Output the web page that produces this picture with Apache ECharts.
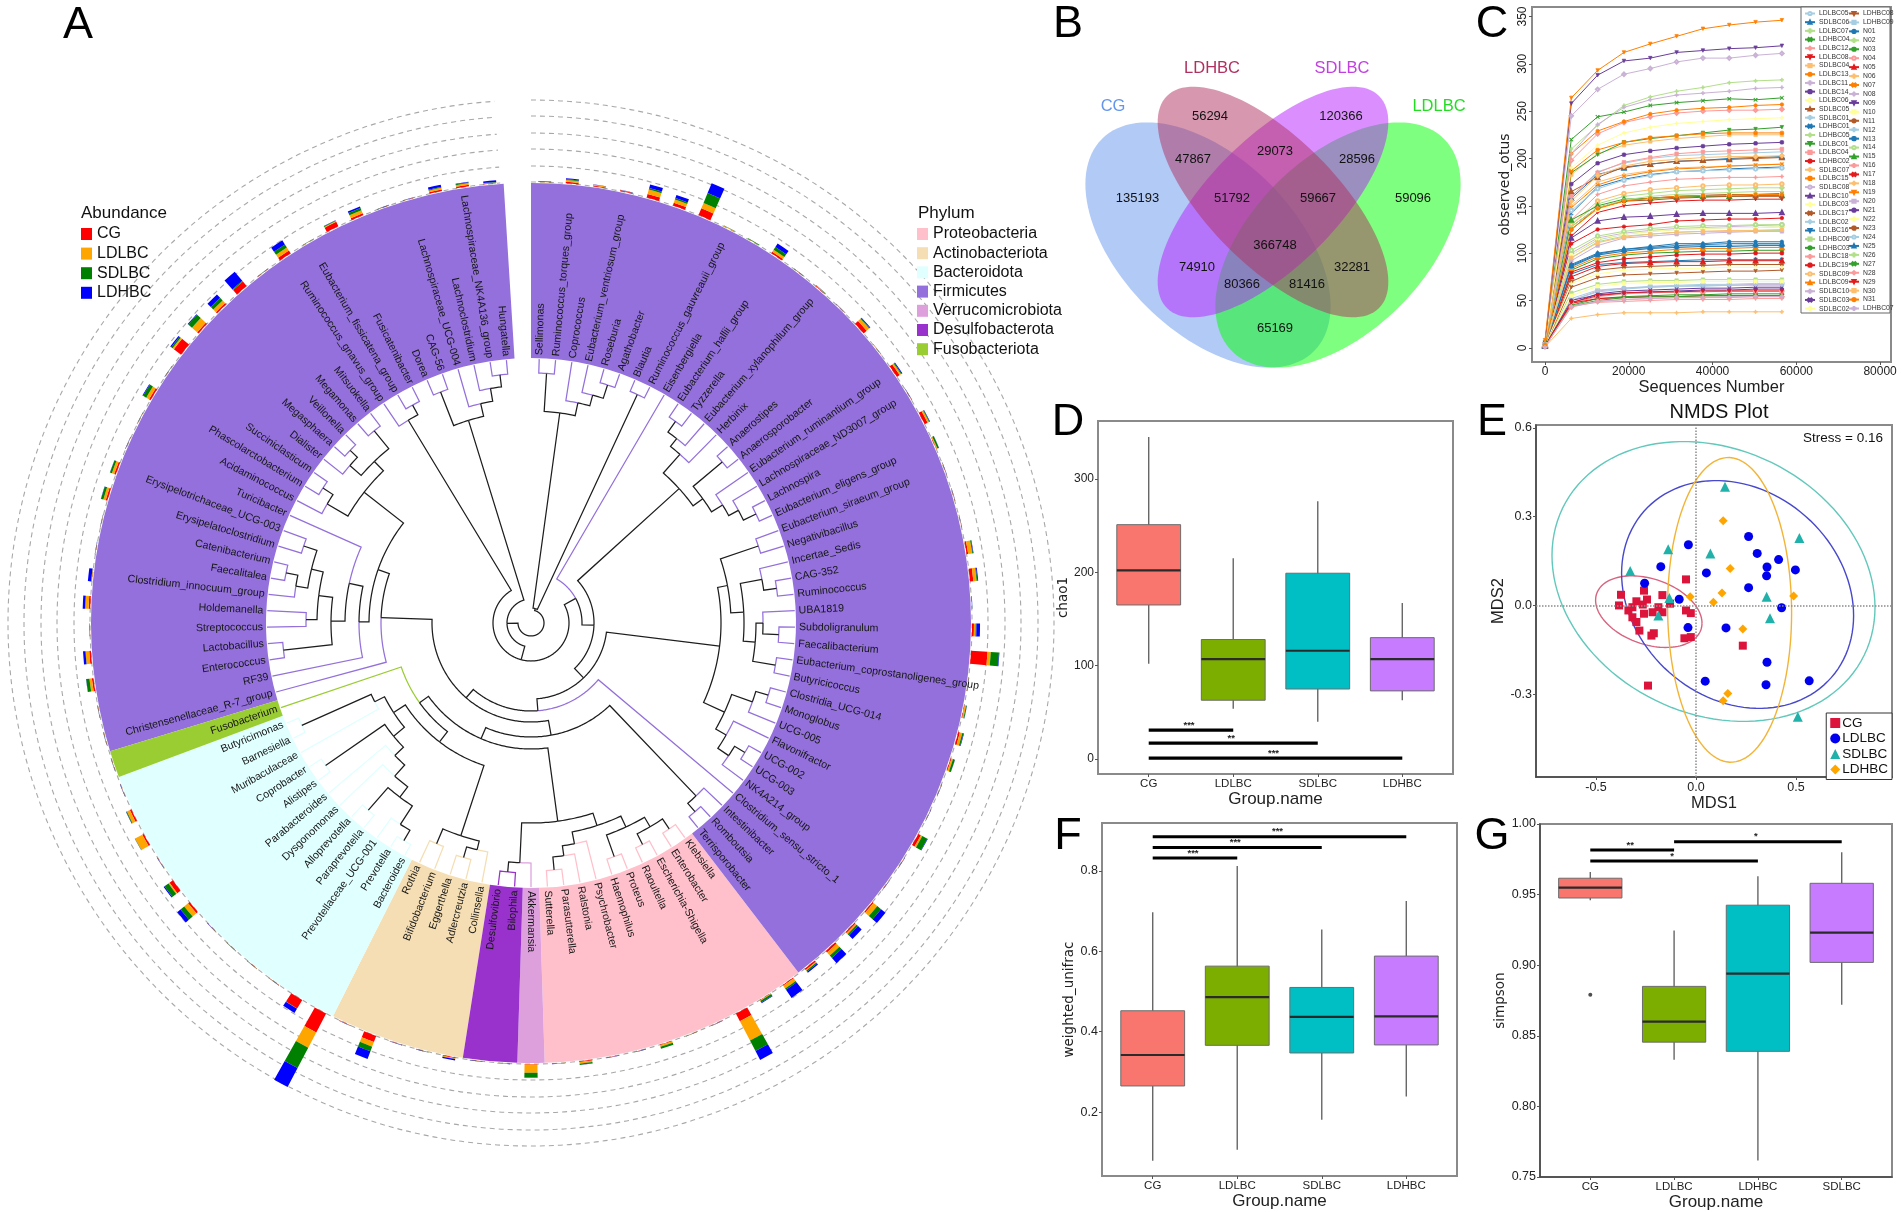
<!DOCTYPE html>
<html><head><meta charset="utf-8"><style>html,body{margin:0;background:#fff}#c{width:1902px;height:1212px}</style>
<script src="https://cdn.jsdelivr.net/npm/echarts@6/dist/echarts.min.js"></script></head>
<body><div id="c"></div><script>
const NARROW='"Liberation Sans",Arial,sans-serif', WIDE='"DejaVu Sans",sans-serif', PLAIN='"Liberation Sans",Arial,sans-serif';

// ---------- Panel A ----------
const genera=['Sellimonas','Ruminococcus_torques_group','Coprococcus','Eubacterium_ventriosum_group','Roseburia','Agathobacter','Blautia','Ruminococcus_gauvreauii_group','Eisenbergiella','Eubacterium_hallii_group','Tyzzerella','Eubacterium_xylanophilum_group','Herbinix','Anaerostipes','Anaerosporobacter','Eubacterium_ruminantium_group','Lachnospiraceae_ND3007_group','Lachnospira','Eubacterium_eligens_group','Eubacterium_siraeum_group','Negativibacillus','Incertae_Sedis','CAG-352','Ruminococcus','UBA1819','Subdoligranulum','Faecalibacterium','Eubacterium_coprostanoligenes_group','Butyricicoccus','Clostridia_UCG-014','Monoglobus','UCG-005','Flavonifractor','UCG-002','UCG-003','NK4A214_group','Clostridium_sensu_stricto_1','Intestinibacter','Romboutsia','Terrisporobacter','Klebsiella','Enterobacter','Escherichia-Shigella','Raoultella','Proteus','Haemophilus','Psychrobacter','Ralstonia','Parasutterella','Sutterella','Akkermansia','Bilophila','Desulfovibrio','Collinsella','Adlercreutzia','Eggerthella','Bifidobacterium','Rothia','Bacteroides','Prevotella','Prevotellaceae_UCG-001','Paraprevotella','Alloprevotella','Dysgonomonas','Parabacteroides','Alistipes','Coprobacter','Muribaculaceae','Barnesiella','Butyricimonas','Fusobacterium','Christensenellaceae_R-7_group','RF39','Enterococcus','Lactobacillus','Streptococcus','Holdemanella','Clostridium_innocuum_group','Faecalitalea','Catenibacterium','Erysipelatoclostridium','Erysipelotrichaceae_UCG-003','Turicibacter','Acidaminococcus','Phascolarctobacterium','Succiniclasticum','Dialister','Megasphaera','Veillonella','Megamonas','Mitsuokella','Ruminococcus_gnavus_group','Eubacterium_fissicatena_group','Fusicatenibacter','Dorea','CAG-56','Lachnospiraceae_UCG-004','Lachnoclostridium','Lachnospiraceae_NK4A136_group','Hungatella'];
const phylumNames=['Proteobacteria','Actinobacteriota','Bacteroidota','Firmicutes','Verrucomicrobiota','Desulfobacterota','Fusobacteriota'];
const phylumColors=['#FFC0CB','#F5DEB3','#E0FFFF','#9370DB','#DDA0DD','#9932CC','#9ACD32'];
// runs of leaves around the circle: [phylum index, leaf count]
const phylumRuns=[[3,40],[0,10],[4,1],[5,2],[1,5],[2,12],[6,1],[3,29]];
const abCG=[.01,.1,.06,.05,.22,.18,.45,.01,.01,.1, .01,.03,.01,.25,.01,.2,.01,.2,.03,.01, .01,.01,.1,.2,.01,.12,1,.01,.03,.1, .05,.01,.01,.18,.01,.01,.08,.08,.12,.1, .05,.03,.53,.01,.01,.03,.01,.01,.04,.01, .03,.01,.01,.04,.01,.01,.4,.01,1.3,.6, .01,.01,.01,.01,.12,.25,.01,.1,.1,.01, .01,.01,.01,.1,.1,.01,.1,.01,.01,.01, .1,.1,.01,.01,.1,.01,.55,.1,.1,.35, .01,.2,.01,.3,.12,.01,.01,.1,.1,.03];
const abLDLBC=[.01,.1,.05,.01,.28,.2,.35,.03,.01,.15, .01,.03,.01,.2,.01,.1,.01,.1,.05,.01, .01,.01,.25,.2,.01,.1,.2,.01,.08,.15, .1,.01,.01,.1,.01,.01,.3,.1,.25,.05, .2,.03,1.33,.01,.01,.1,.01,.01,.1,.01, .5,.01,.01,.05,.01,.01,.3,.01,1.05,.01, .01,.01,.01,.01,.3,.08,.01,.5,.2,.01, .01,.01,.01,.15,.22,.01,.2,.03,.01,.01, .15,.15,.01,.01,.2,.01,.1,.42,.22,.01, .01,.22,.01,.05,.2,.01,.01,.1,.1,.03];
const abSDLBC=[.03,.05,.01,.01,.1,.1,.65,.01,.03,.2, .01,.01,.01,.05,.01,.05,.01,.04,.1,.01, .01,.01,.05,.05,.01,.05,.5,.01,.05,.08, .12,.01,.01,.35,.01,.01,.3,.12,.2,.08, .1,.12,.72,.01,.01,.12,.01,.01,.08,.01, .3,.01,.01,.01,.01,.01,.3,.01,1.4,.01, .01,.01,.01,.01,.3,.3,.01,.01,.05,.01, .01,.01,.01,.2,.01,.01,.01,.01,.01,.01, .15,.12,.01,.01,.22,.01,.1,.3,.22,.05, .01,.22,.01,.05,.15,.01,.01,.05,.05,.03];
const abLDHBC=[.01,.06,.01,.01,.22,.2,.65,.01,.01,.25, .01,.01,.01,.05,.01,.05,.01,.03,.01,.01, .01,.01,.03,.05,.01,.22,.03,.01,.01,.03, .01,.01,.01,.03,.01,.01,.35,.3,.42,.08, .6,.04,.61,.01,.01,.01,.01,.01,.01,.01, .01,.01,.01,.08,.01,.01,.5,.01,1.5,.3, .01,.01,.01,.01,.25,.06,.01,.01,.01,.01, .01,.01,.01,.01,.15,.01,.15,.2,.01,.01, .01,.01,.01,.01,.05,.01,.08,.05,.28,.72, .01,.3,.01,.01,.1,.01,.01,.15,.03,.1];
const abundanceGroups=['CG','LDLBC','SDLBC','LDHBC'];
const abundanceColors=['#FF0000','#FFA500','#008000','#0000FF'];
const ringRadii=[441,457,474,490,507,523];
// tree: [node radius, child, child...]; an integer child is a leaf index
const treeTopology=[13,
 [15,[212,[250,0,1],[225,2,[236,3,[250,4,5]]]],[252,6,7]],
 [24,
  [38,
   [51,8,
    [63,
     [200,[225,[235,[248,9,10],11],12],[212,[250,13,14],[225,15,[236,16,[250,17,18]]]]],
     [76,
      [190,
       [200,[240,19,20],[213,[235,21,[248,22,23]],[225,[232,24,[248,25,26]],[248,27,28]]]],
       [213,[235,[248,29,30],31],[225,32,[238,[250,33,34],35]]]],
      [88,36,
       [99,
        [114,
         [239,37,[250,38,39]],
         [126,
          [200,[213,[225,[236,[248,40,41],[248,42,43]],[248,44,45]],[225,46,[235,47,[248,48,49]]]],[240,50,[250,51,52]]],
          [137,
           [150,
            [224,[233,53,[244,54,55]],[240,56,57]],
            [164,[178,[190,[205,[218,[240,[252,58,59],60],[248,61,62]],63],64],[250,65,66]],[175,67,[251,68,69]]]],
           70]]],
        [150,71,
         [162,
          [172,72,[186,[200,[249,73,74],[214,[225,75,76],[226,[238,77,[250,78,79]],[240,80,81]]]],82]],
          [212,[236,83,[248,84,85]],[225,[240,86,[250,87,88]],[248,89,90]]]]]]]]]],
   [237,91,[248,92,93]]],
  [212,[248,94,95],[225,96,[238,97,[250,98,99]]]]]];
const LEAF_R=264;

// ---------- Panel B ----------
const vennSets=['CG','LDLBC','SDLBC','LDHBC'];
const vennColors=['#6495ED','#00FF00','#B820FF','#B03060'];
const vennLabelColors=['#6495ED','#22DD22','#C040E0','#B03060'];
const vennEllipses=[[128,185,150,87,45],[258,185,150,87,-45],[193,142,150,64,-45],[193,142,150,64,45]];
const vennNamePos=[[33,46],[359,46],[262,8],[132,8]];
const vennCounts=[56294,120366,47867,29073,28596,135193,51792,59667,59096,366748,74910,32281,80366,81416,65169];
const vennCountPos=[[130,56],[261,56],[113,99],[195,91],[277,99],[57.5,138],[152,138],[238,138],[333,138],[195,185],[117,207],[272,207],[162,224],[227,224],[195,268]];

// ---------- Panel C ----------
const seqDepths=[0,6284,12568,18852,25136,31420,37704,43988,50272,56556];
const otuNamesCol1=['LDLBC05','SDLBC06','LDLBC07','LDHBC04','LDLBC12','LDLBC08','SDLBC04','LDLBC13','LDLBC11','LDLBC14','LDLBC06','SDLBC05','SDLBC01','LDHBC01','LDHBC05','LDLBC01','LDLBC04','LDHBC02','SDLBC07','LDLBC15','SDLBC08','LDLBC10','LDLBC03','LDLBC17','LDLBC02','LDLBC16','LDHBC06','LDHBC03','LDLBC18','LDLBC19','SDLBC09','LDLBC09','SDLBC10','SDLBC03','SDLBC02'];
const otuNamesCol2=['LDHBC08','LDHBC09','N01','N02','N03','N04','N05','N06','N07','N08','N09','N10','N11','N12','N13','N14','N15','N16','N17','N18','N19','N20','N21','N22','N23','N24','N25','N26','N27','N28','N29','N30','N31','LDHBC07'];
const otuPalette=['#A6CEE3','#1F78B4','#B2DF8A','#33A02C','#FB9A99','#E31A1C','#FDBF6F','#FF7F00','#CAB2D6','#6A3D9A','#FFFF99','#B15928'];
const otuRows=[
[4,52,61,63,65,66,67,67,68,68],[3,158,183,190,194,197,198,200,201,202],[5,210,235,256,265,271,275,280,282,283],[6,220,244,249,256,259,261,263,262,264],
[5,198,226,238,244,248,250,251,251,252],[3,118,143,150,153,155,156,156,157,157],[4,183,205,214,218,221,223,225,225,225],[5,205,229,239,247,251,253,254,256,257],
[5,205,236,254,262,267,269,271,274,275],[4,173,195,204,208,211,213,215,216,217],[3,125,146,154,157,159,160,161,162,162],[4,165,180,191,194,197,198,199,200,201],
[4,160,186,195,200,203,204,205,206,207],[3,142,170,178,183,186,187,189,190,191],[3,130,152,160,163,166,167,168,169,169],[4,185,204,217,221,224,227,230,231,233],
[4,160,185,196,201,205,207,208,209,210],[3,110,125,128,130,134,135,136,136,137],[3,150,175,183,187,190,191,192,193,194],[4,187,209,217,222,224,226,227,227,227],
[3,100,116,121,124,126,127,128,129,130],[3,116,134,138,139,141,142,142,142,143],[4,190,214,227,233,237,239,241,242,243],[3,128,148,155,158,160,161,162,162,163],
[3,98,114,120,123,125,126,127,127,128],[3,78,88,90,91,92,93,93,93,93],[2,58,67,70,71,71,72,72,72,72],[2,82,94,98,100,101,102,102,103,103],
[3,135,162,171,175,178,179,180,180,181],[2,80,90,94,96,98,99,99,100,100],[3,130,155,163,167,169,171,172,172,173],[2,84,96,100,102,104,105,105,106,106],
[2,50,60,63,64,65,66,66,67,67],[2,47,57,60,61,62,63,63,64,64],[3,98,115,120,123,125,126,127,127,128],[2,64,74,77,78,79,80,81,81,82],
[2,85,98,103,105,107,108,108,109,109],[2,88,100,104,107,110,110,112,112,112],[3,95,112,118,120,122,123,123,124,124],[2,45,52,54,55,56,56,57,57,57],
[2,47,54,57,58,59,59,60,60,60],[2,75,86,89,90,91,91,92,92,92],[1,31,35,37,37,37,38,38,38,38],[3,148,172,181,186,189,190,192,193,194],
[5,245,273,289,295,302,306,306,309,311],[5,258,288,303,306,312,314,316,317,319],[2,55,65,68,69,69,70,70,70,70],[2,70,82,85,86,87,87,88,88,88],
[2,50,59,62,64,65,65,66,66,66],[2,86,98,102,105,106,107,107,108,108],[3,103,118,123,126,128,129,129,130,130],[3,135,150,157,158,159,160,160,161,161],
[1,44,48,49,50,51,51,51,52,52],[2,47,52,53,54,54,55,55,55,55],[4,155,182,192,197,199,201,202,202,203],[8,264,293,312,321,329,337,341,344,346],
[2,92,108,116,118,120,121,122,123,123],[2,50,56,58,59,60,61,61,62,62],[2,68,78,82,83,84,84,85,85,85],[3,125,148,155,156,158,159,160,160,160],
[3,145,168,177,182,186,187,188,189,190],[2,87,99,104,106,108,109,110,110,110],[3,128,148,156,160,162,163,164,165,165],[2,44,50,53,54,54,55,55,55,55],
[1,43,49,51,52,53,53,53,54,54],[2,48,55,58,59,59,60,60,60,60],[2,95,111,117,120,122,123,124,124,125],[3,125,147,155,158,160,161,161,162,162],
[1,44,49,51,52,53,53,54,54,54]];
const otuSymbols=['emptyCircle','emptyTriangle','path://M4 0h2v4h4v2h-4v4h-2v-4h-4v-2h4z','path://M1 0l4 4 4-4 1 1-4 4 4 4-1 1-4-4-4 4-1-1 4-4-4-4z','emptyDiamond','path://M0 0h10l-5 9z','rect','circle','path://M4 0h2v4h4v2h-4v4h-2v-4h-4v-2h4z','roundRect'];

// ---------- Panels D, F, G: [position, low whisker, Q1, median, Q3, high whisker] ----------
const boxColors=['#F8766D','#7CAE00','#00BFC4','#C77CFF'];
const groupsDF=['CG','LDLBC','SDLBC','LDHBC'];
const groupsG=['CG','LDLBC','LDHBC','SDLBC'];
const chao1Stats=[[1,102,165,202,251,345],[2,54,63,107,128,215],[3,40,75,116,199,276],[4,63,73,107,130,167]];
const chao1Sig=[[1,2,31,'***'],[1,3,17,'**'],[1,4,1,'***']];
const unifracStats=[[1,.079,.265,.342,.452,.697],[2,.106,.366,.486,.563,.812],[3,.181,.347,.437,.51,.654],[4,.239,.367,.438,.588,.725]];
const unifracSig=[[1,2,.832,'***'],[1,3,.858,'***'],[1,4,.885,'***']];
const simpsonStats=[[1,.946,.9476,.955,.9616,.966],[2,.833,.8455,.860,.885,.9245],[3,.7616,.839,.894,.9425,.963],[4,.872,.902,.923,.958,.98]];
const simpsonSig=[[1,2,.9816,'**'],[1,3,.9738,'*'],[2,4,.9875,'*']];
const simpsonOutliers=[[1,.879]];

// ---------- Panel E ----------
const nmdsCG=[[-.05,.088],[-.26,.05],[-.375,.036],[-.385,0],[-.168,.035],[-.13,.006],[-.245,.02],[-.298,.014],[-.318,-.006],[-.338,-.017],[-.266,.003],[-.26,-.028],[-.318,-.04],[-.298,-.056],[-.283,-.085],[-.217,-.023],[-.188,-.006],[-.168,-.023],[-.211,-.094],[-.223,-.102],[-.05,-.017],[-.026,-.026],[-.058,-.111],[-.026,-.107],[.234,-.136],[-.24,-.271]];
const nmdsLDLBC=[[.263,.233],[-.038,.205],[.306,.176],[.413,.155],[.355,.13],[-.176,.131],[.497,.12],[.052,.11],[.353,.1],[-.257,.075],[.263,.06],[-.084,.021],[.428,-.008],[-.04,-.075],[.15,-.076],[.355,-.192],[.046,-.256],[.35,-.268],[.566,-.255]];
const nmdsSDLBC=[[.145,.401],[.517,.228],[-.139,.19],[.072,.176],[-.329,.116],[.353,.029],[-.133,.025],[-.188,-.034],[.37,-.043],[.509,-.376]];
const nmdsLDHBC=[[.136,.286],[.171,.125],[.13,.042],[-.029,.029],[.087,.011],[.488,.032],[.234,-.08],[.159,-.298],[.136,-.322]];
const nmdsGroups=['CG','LDLBC','SDLBC','LDHBC'];
const nmdsColors=['#DC143C','#0000EE','#20B2AA','#FFA500'];
const nmdsSymbols=['rect','circle','triangle','diamond'];
const nmdsSizes=[8,9,10,9];
// ellipse [cx, cy, half width, half height, correlation]
const nmdsEllipses=[[-.236,-.021,.266,.121,-.32],[.208,.037,.58,.385,-.186],[.0875,.081,.8075,.473,-.186],[.168,-.015,.31,.515,-.02]];
const nmdsEllipseColors=['#D8637F','#4848CC','#62C8BC','#F2B437'];

// ---------- Panel layout ----------
const CX=531, CY=623;
const grids=[
 {left:1532,top:7,width:359,height:355},
 {left:1098,top:421,width:355,height:353},
 {left:1536,top:425,width:356,height:352},
 {left:1102,top:823,width:355,height:353},
 {left:1540,top:824,width:352,height:353},
 {left:1080,top:60,width:390,height:320,show:false}];
grids.forEach((g,i)=>{ if(i<5) Object.assign(g,{show:true,borderColor:'#8a8a8a',borderWidth:2,backgroundColor:'#fff'}); });

function axis(gridIndex,min,max,ticks,fmt,name,gap,size,font,labelSize,darkLine){
  return {type:'value',gridIndex,min,max,
    axisLine:{show:!!darkLine,onZero:false,lineStyle:{color:'#444',width:1.5}},splitLine:{show:false},
    axisTick:{show:true,length:3,customValues:ticks,lineStyle:{color:'#555'}},
    axisLabel:{customValues:ticks,formatter:fmt,fontFamily:NARROW,fontSize:labelSize,color:'#222',margin:4},
    name,nameLocation:'middle',nameGap:gap,nameTextStyle:{fontFamily:font,fontSize:size,color:'#222'}};
}
const catFmt=a=>v=>a[v-1];
const xAxes=[
 axis(0,-3100,82600,[0,20000,40000,60000,80000],v=>String(v),'Sequences Number',12,16.5,NARROW,12),
 axis(1,.4,4.6,[1,2,3,4],catFmt(groupsDF),'Group.name',15,17,NARROW,11.5),
 axis(2,-.8,.98,[-.5,0,.5],v=>v.toFixed(1),'MDS1',13,16.5,NARROW,12.5,true),
 axis(3,.4,4.6,[1,2,3,4],catFmt(groupsDF),'Group.name',12,17,NARROW,11.5),
 axis(4,.4,4.6,[1,2,3,4],catFmt(groupsG),'Group.name',11,17,NARROW,11.5,true),
 {type:'value',gridIndex:5,min:0,max:390,show:false}];
const yAxes=[
 axis(0,-15,360,[0,50,100,150,200,250,300,350],v=>String(v),'observed_otus',20,14,WIDE,12),
 axis(1,-16,362,[0,100,200,300],v=>String(v),'chao1',21,13.5,WIDE,12),
 axis(2,-.58,.61,[-.3,0,.3,.6],v=>v.toFixed(1),'MDS2',22,16.5,NARROW,12.5,true),
 axis(3,.041,.919,[.2,.4,.6,.8],v=>v.toFixed(1),'weighted_unifrac',19,13.5,WIDE,12.5),
 axis(4,.75,1,[.75,.8,.85,.9,.95,1],v=>v.toFixed(2),'simpson',28,13.5,WIDE,12.5,true),
 {type:'value',gridIndex:5,min:0,max:320,inverse:true,show:false}];
yAxes[0].axisLabel.rotate=90; yAxes[0].axisLabel.margin=3;

// ---------- Series builders ----------
function boxSeries(g,rows){
  return {type:'custom',xAxisIndex:g,yAxisIndex:g,data:rows,encode:{x:0,y:[1,2,3,4,5]},z:3,
   renderItem(params,api){
    const x=api.value(0), hw=api.size([.755,0])[0]/2, p=n=>api.coord([x,api.value(n)]);
    const lo=p(1),q1=p(2),m=p(3),q3=p(4),hi=p(5), col=boxColors[params.dataIndex];
    return {type:'group',children:[
      {type:'line',shape:{x1:lo[0],y1:lo[1],x2:lo[0],y2:hi[1]},style:{stroke:'#666',lineWidth:1.4}},
      {type:'rect',shape:{x:q3[0]-hw,y:q3[1],width:hw*2,height:q1[1]-q3[1]},style:{fill:col,stroke:'#6c6c6c',lineWidth:1}},
      {type:'line',shape:{x1:m[0]-hw,y1:m[1],x2:m[0]+hw,y2:m[1]},style:{stroke:'#2a2a2a',lineWidth:2.2}}]};
   }};
}
function sigSeries(g,rows,barW){
  return {type:'custom',xAxisIndex:g,yAxisIndex:g,data:rows.map(r=>r.slice(0,3)),encode:{x:[0,1],y:2},z:4,
   renderItem(params,api){
    const a=api.coord([api.value(0),api.value(2)]), b=api.coord([api.value(1),api.value(2)]);
    return {type:'group',children:[
      {type:'line',shape:{x1:a[0],y1:a[1],x2:b[0],y2:b[1]},style:{stroke:'#000',lineWidth:barW}},
      {type:'text',x:(a[0]+b[0])/2-2,y:a[1]-5,style:{text:rows[params.dataIndex][3],fontSize:9.5,fontWeight:'bold',fontFamily:PLAIN,fill:'#222',align:'center',verticalAlign:'middle',textAlign:'center',textVerticalAlign:'middle'}}]};
   }};
}

// tree edges
const leafPhylum=[]; phylumRuns.forEach(([p,n])=>{for(let i=0;i<n;i++)leafPhylum.push(p)});
const edges=[], edgeColors=[];
function place(node){ // returns [angle, radius]
  if(typeof node==='number') return [node+.5,LEAF_R,node];
  const [r,...kids]=node;
  const placed=kids.map(place);
  const a=(placed[0][0]+placed[placed.length-1][0])/2;
  placed.forEach(([ca,cr,leaf])=>{
    edges.push([r,a,cr,ca]);
    edgeColors.push(leaf===undefined?'#1d1d1d':phylumColors[leafPhylum[leaf]]);
  });
  return [a,r];
}
place(treeTopology);
// pale/coloured edges first so the black skeleton sits on top
const edgeOrder=edges.map((_,i)=>i).sort((a,b)=>(edgeColors[a]==='#1d1d1d')-(edgeColors[b]==='#1d1d1d'));

// phylum sectors, one block per run of leaves
const phylumBlocks=phylumNames.map(()=>[]);
{let at=0; phylumRuns.forEach(([p,n])=>{phylumBlocks[p].push([at,at+n]); at+=n;});}
const sectorSeries=phylumNames.map((name,p)=>({
  name,type:'custom',coordinateSystem:'polar',polarIndex:0,z:1,silent:true,
  itemStyle:{color:phylumColors[p]},
  data:phylumBlocks[p],
  renderItem(params,api){
    const s=params.coordSys, a=api.value(0), b=api.value(1);
    const P0=api.coord([265,a]), P1=api.coord([440,a]), P2=api.coord([440,b]);
    let start=Math.atan2(P1[1]-s.cy,P1[0]-s.cx), end=Math.atan2(P2[1]-s.cy,P2[0]-s.cx);
    if(end<=start) end+=2*Math.PI;
    return {type:'sector',shape:{cx:s.cx,cy:s.cy,r0:Math.hypot(P0[0]-s.cx,P0[1]-s.cy),r:Math.hypot(P1[0]-s.cx,P1[1]-s.cy),startAngle:start,endAngle:end,clockwise:true},
      style:{fill:phylumColors[p]}};
  }}));
const abundanceArrays=[abCG,abLDLBC,abSDLBC,abLDHBC];
const abundanceSeries=abundanceGroups.map((name,k)=>({
  name,type:'bar',coordinateSystem:'polar',polarIndex:1,stack:'abundance',barWidth:'47%',z:3,
  itemStyle:{color:abundanceColors[k]},data:abundanceArrays[k]}));
const ringSeries={type:'custom',coordinateSystem:'polar',polarIndex:0,z:2,data:ringRadii.map(r=>[r,0]),silent:true,
  renderItem(params,api){
    const s=params.coordSys, p=api.coord([api.value(0),0]), r=Math.hypot(p[0]-s.cx,p[1]-s.cy);
    return {type:'arc',shape:{cx:s.cx,cy:s.cy,r,startAngle:-Math.PI/2,endAngle:(356-90)*Math.PI/180,clockwise:true},
      style:{stroke:'#a8a8a8',lineWidth:1.1,lineDash:[5,4],fill:null}};
  }};
const treeSeries={type:'custom',coordinateSystem:'polar',polarIndex:0,z:4,silent:true,
  data:edgeOrder.map(i=>edges[i]),
  renderItem(params,api){
    const r0=api.value(0),a0=api.value(1),r1=api.value(2),a1=api.value(3),pts=[];
    const n=Math.max(1,Math.ceil(Math.abs(a1-a0)/.2));
    for(let i=0;i<=n;i++) pts.push(api.coord([r0,a0+(a1-a0)*i/n]));
    pts.push(api.coord([r1,a1]));
    return {type:'polyline',shape:{points:pts},style:{stroke:edgeColors[edgeOrder[params.dataIndex]],lineWidth:1.25,fill:null}};
  }};
const leafLabelSeries={type:'custom',coordinateSystem:'polar',polarIndex:0,z:5,silent:true,
  data:genera.map((_,i)=>[268,i+.5]),
  renderItem(params,api){
    const i=params.dataIndex, p=api.coord([api.value(0),api.value(1)]), th=api.value(1)*360/101, right=i<=50;
    return {type:'text',x:p[0],y:p[1],rotation:(right?90-th:270-th)*Math.PI/180,
      style:{text:genera[i],fontSize:10.6,fontFamily:PLAIN,fill:'#161616',align:right?'left':'right',verticalAlign:'middle',textAlign:right?'left':'right',textVerticalAlign:'middle'}};
  }};

// venn
const vennSeries={type:'custom',xAxisIndex:5,yAxisIndex:5,data:vennEllipses,z:2,silent:true,
  renderItem(params,api){
    const cx=api.value(0),cy=api.value(1),A=api.value(2),B=api.value(3),f=api.value(4)*Math.PI/180,pts=[];
    for(let k=0;k<120;k++){const t=k/120*2*Math.PI;
      pts.push(api.coord([cx+A*Math.cos(t)*Math.cos(f)-B*Math.sin(t)*Math.sin(f),cy+A*Math.cos(t)*Math.sin(f)+B*Math.sin(t)*Math.cos(f)]));}
    return {type:'polygon',shape:{points:pts},style:{fill:vennColors[params.dataIndex],opacity:.5}};
  }};
const vennTextSeries=(rows,texts,size,colorFn,font)=>({type:'custom',xAxisIndex:5,yAxisIndex:5,data:rows,z:3,silent:true,
  renderItem(params,api){
    const p=api.coord([api.value(0),api.value(1)]);
    return {type:'text',x:p[0],y:p[1],style:{text:String(texts[params.dataIndex]),fontSize:size,fontFamily:font,fill:colorFn(params.dataIndex),align:'center',verticalAlign:'middle',textAlign:'center',textVerticalAlign:'middle'}};
  }});

// rarefaction
const otuNames=otuNamesCol1.concat(otuNamesCol2);
const otuSeries=otuRows.map((row,i)=>({
  name:otuNames[i],type:'line',xAxisIndex:0,yAxisIndex:0,z:2,
  data:row.map((v,k)=>[seqDepths[k],v]),
  symbol:otuSymbols[i%otuSymbols.length],symbolSize:3.5,
  lineStyle:{width:1,color:otuPalette[i%12]},
  itemStyle:{color:otuPalette[i%12],borderColor:otuPalette[i%12],borderWidth:.7}}));

// NMDS
const nmdsData=[nmdsCG,nmdsLDLBC,nmdsSDLBC,nmdsLDHBC];
const nmdsSeries=nmdsGroups.map((name,k)=>({
  name,type:'scatter',xAxisIndex:2,yAxisIndex:2,data:nmdsData[k],z:4,
  symbol:nmdsSymbols[k],symbolSize:nmdsSizes[k],itemStyle:{color:nmdsColors[k],opacity:1},
  markLine:k?undefined:{silent:true,symbol:'none',label:{show:false},animation:false,
    lineStyle:{type:'dotted',color:'#8a8a8a',width:1.5},data:[{xAxis:0},{yAxis:0}]}}));
const ellipseSeries={type:'custom',xAxisIndex:2,yAxisIndex:2,data:nmdsEllipses,z:3,silent:true,
  renderItem(params,api){
    const cx=api.value(0),cy=api.value(1),sx=api.value(2),sy=api.value(3),rho=api.value(4),pts=[];
    for(let k=0;k<=120;k++){const t=k/120*2*Math.PI;
      pts.push(api.coord([cx+sx*Math.cos(t),cy+sy*(rho*Math.cos(t)+Math.sqrt(1-rho*rho)*Math.sin(t))]));}
    return {type:'polyline',shape:{points:pts},style:{stroke:nmdsEllipseColors[params.dataIndex],lineWidth:1.4,fill:null}};
  }};

// polar coordinate systems: sectors + tree, abundance bars
const angleSlots=genera.concat(['']);

const letter=(t,x,y)=>({type:'text',x,y,style:{text:t,fontSize:45,fontFamily:NARROW,fill:'#000',align:'center',verticalAlign:'middle',textAlign:'center',textVerticalAlign:'middle'},z:20});
const freeText=(t,x,y,size,align)=>({type:'text',x,y,style:{text:t,fontSize:size,fontFamily:NARROW,fill:'#111',align:align||'left',verticalAlign:'middle',textAlign:align||'left',textVerticalAlign:'middle'},z:20});

const legendItem=(names,colors,icons)=>names.map((name,i)=>({name,icon:icons?icons[i]:'rect',itemStyle:{color:colors[i],borderWidth:0,opacity:1}}));

const chart=echarts.init(document.getElementById('c'),null,{renderer:'canvas',width:1902,height:1212});
chart.setOption({
 animation:false,backgroundColor:'#fff',
 title:{text:'NMDS Plot',left:1719,top:402,textAlign:'center',padding:0,textStyle:{fontFamily:NARROW,fontSize:20,fontWeight:'normal',color:'#111'}},
 grid:grids,xAxis:xAxes,yAxis:yAxes,
 polar:[{center:[CX,CY],radius:[0,265]},{center:[CX,CY],radius:[441,524]}],
 angleAxis:[{type:'value',polarIndex:0,min:0,max:101,startAngle:90,clockwise:true,show:false},
            {type:'category',polarIndex:1,data:angleSlots,startAngle:90,clockwise:true,show:false}],
 radiusAxis:[{type:'value',polarIndex:0,min:0,max:265,show:false},{type:'value',polarIndex:1,min:0,max:5.06,show:false}],
 legend:[
  {left:81,top:226,orient:'vertical',padding:0,itemWidth:11,itemHeight:12,itemGap:3.6,selectedMode:false,
   textStyle:{fontFamily:NARROW,fontSize:16,color:'#111'},data:legendItem(abundanceGroups,abundanceColors)},
  {left:917,top:226,orient:'vertical',padding:0,itemWidth:11,itemHeight:12,itemGap:3.2,selectedMode:false,
   textStyle:{fontFamily:NARROW,fontSize:16,color:'#111'},data:legendItem(phylumNames,phylumColors)},
  {left:1804,top:10,orient:'vertical',padding:0,itemWidth:10,itemHeight:4,itemGap:1.68,selectedMode:false,
   textStyle:{fontFamily:NARROW,fontSize:6.8,color:'#333',padding:[0,0,0,-1]},data:otuNamesCol1},
  {left:1848,top:10,orient:'vertical',padding:0,itemWidth:10,itemHeight:4,itemGap:1.94,selectedMode:false,
   textStyle:{fontFamily:NARROW,fontSize:6.8,color:'#333',padding:[0,0,0,-1]},data:otuNamesCol2},
  {right:10,top:713,orient:'vertical',padding:[3,4,3,4],itemWidth:10,itemHeight:10,itemGap:1.5,selectedMode:false,
   borderColor:'#333',borderWidth:1,backgroundColor:'#fff',
   textStyle:{fontFamily:NARROW,fontSize:13.5,color:'#111',padding:[0,0,0,-3]},data:legendItem(nmdsGroups,nmdsColors,nmdsSymbols)}
 ],
 graphic:[
  letter('A',78,26),letter('B',1068,25),letter('C',1492,25),letter('D',1068,423),letter('E',1492,423),letter('F',1068,837),letter('G',1492,837),
  freeText('Abundance',81,213,17),freeText('Phylum',918,213,17),freeText('Stress = 0.16',1883,438,13.5,'right'),
  {type:'rect',shape:{x:1801,y:7,width:89,height:306},style:{fill:'#fff',stroke:'#666',lineWidth:1},z:1}
 ],
 series:[
  ...sectorSeries,ringSeries,...abundanceSeries,treeSeries,leafLabelSeries,
  vennSeries,
  vennTextSeries(vennNamePos,vennSets,16.5,i=>vennLabelColors[i],NARROW),
  vennTextSeries(vennCountPos,vennCounts,13,()=>'#111',NARROW),
  ...otuSeries,
  boxSeries(1,chao1Stats),sigSeries(1,chao1Sig,3.2),
  ellipseSeries,...nmdsSeries,
  boxSeries(3,unifracStats),sigSeries(3,unifracSig,3),
  boxSeries(4,simpsonStats),sigSeries(4,simpsonSig,3),
  {type:'scatter',xAxisIndex:4,yAxisIndex:4,data:simpsonOutliers,symbolSize:4,itemStyle:{color:'#222'},z:4}
 ]
});
</script></body></html>
